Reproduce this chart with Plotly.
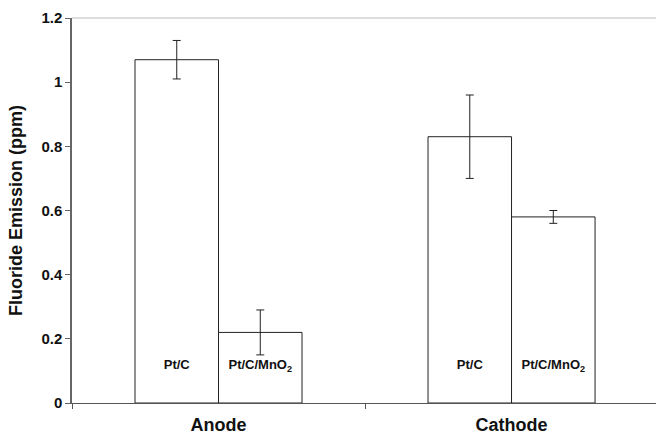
import plotly.graph_objects as go

# Fluoride emission measured at each electrode, for two catalysts
electrodes = ["Anode", "Cathode"]
catalysts = ["Pt/C", "Pt/C/MnO<sub>2</sub>"]
emission_ptc = [1.07, 0.83]
error_ptc = [0.06, 0.13]
emission_mno2 = [0.22, 0.58]
error_mno2 = [0.07, 0.02]
label_height = [0.115, 0.115]
y_ticks = [0, 0.2, 0.4, 0.6, 0.8, 1.0, 1.2]
y_tick_text = ["0", "0.2", "0.4", "0.6", "0.8", "1", "1.2"]

FONT = "Liberation Sans, Arial, sans-serif"
series = [(emission_ptc, error_ptc, "g1"), (emission_mno2, error_mno2, "g2")]

fig = go.Figure()
for (vals, errs, grp), name in zip(series, catalysts):
    fig.add_trace(go.Bar(
        x=electrodes, y=vals, name=name, offsetgroup=grp,
        marker=dict(color="white", line=dict(color="#222222", width=1)),
        error_y=dict(type="data", array=errs, visible=True,
                     color="#222222", thickness=1, width=4),
        showlegend=False, hoverinfo="skip",
    ))

# catalyst names written inside each bar, near its base
for (vals, errs, grp), name in zip(series, catalysts):
    fig.add_trace(go.Scatter(
        x=electrodes, y=label_height, mode="text", offsetgroup=grp,
        text=[name] * len(electrodes),
        textfont=dict(family=FONT, size=13, color="#111111", weight="bold"),
        showlegend=False, hoverinfo="skip",
    ))

fig.update_layout(
    width=656, height=435,
    margin=dict(l=72, r=0, t=18, b=30),
    paper_bgcolor="white", plot_bgcolor="white",
    barmode="group", bargap=0.43, bargroupgap=0,
    scattermode="group", scattergap=0.43,
    font=dict(family=FONT, color="#111111"),
    shapes=[dict(type="line", xref="paper", yref="paper",
                 x0=0, x1=1, y0=1, y1=1,
                 line=dict(color="#bbbbbb", width=1))],
)
fig.update_xaxes(
    type="category", range=[-0.5, 1.493],
    showline=True, linecolor="#555555", linewidth=1,
    ticks="outside", tickson="boundaries", ticklen=5, tickcolor="#555555",
    ticklabelstandoff=5,
    tickfont=dict(family=FONT, size=18, color="#111111", weight="bold"),
    showgrid=False, zeroline=False, fixedrange=True,
)
fig.update_yaxes(
    range=[0, 1.2], tickvals=y_ticks, ticktext=y_tick_text,
    showline=True, linecolor="#666666", linewidth=1.5,
    ticks="outside", ticklen=5, tickcolor="#666666",
    tickfont=dict(family=FONT, size=15, color="#111111", weight="bold"),
    title=dict(text="Fluoride Emission (ppm)", standoff=14,
               font=dict(family=FONT, size=18, color="#111111", weight="bold")),
    showgrid=False, zeroline=False, fixedrange=True,
)

fig.write_html("out.html")
